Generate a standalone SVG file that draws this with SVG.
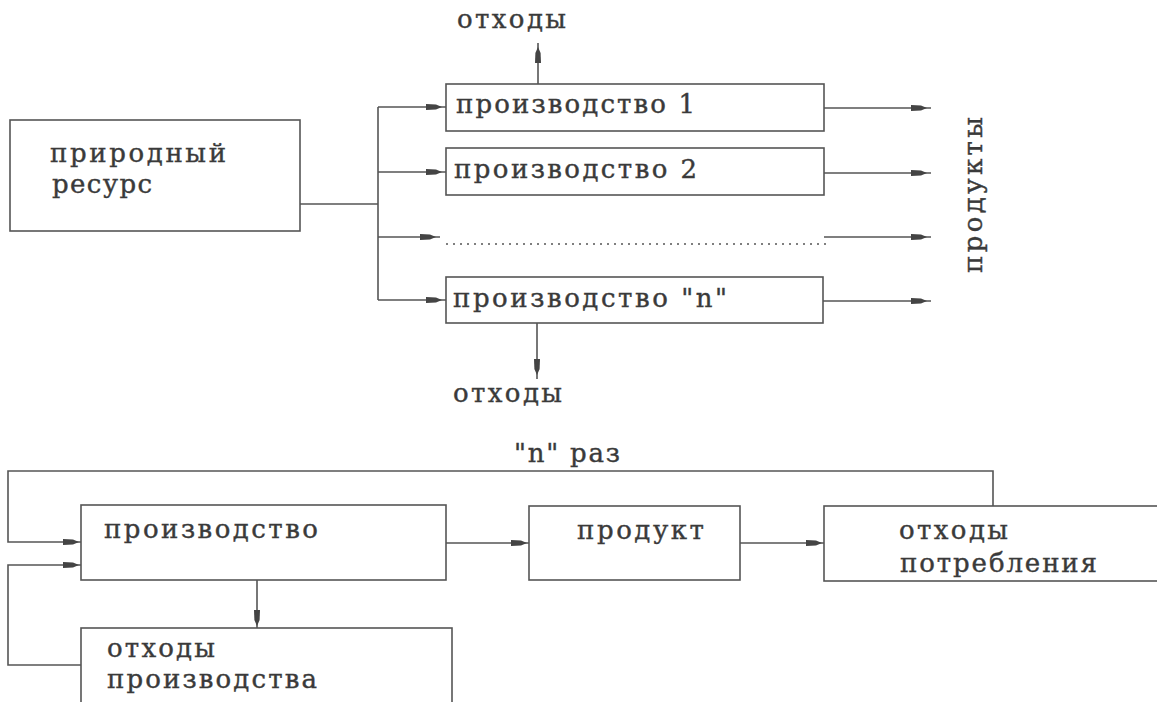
<svg xmlns="http://www.w3.org/2000/svg" width="1157" height="702" viewBox="0 0 1157 702">
<defs>
<style>
.box{fill:#fff;stroke:#555;stroke-width:1.6}
.ln{fill:none;stroke:#555;stroke-width:1.6}
.ar{fill:none;stroke:#555;stroke-width:1.6;marker-end:url(#ah)}
.t{font-family:"DejaVu Serif","Liberation Serif",serif;font-size:26px;fill:#3a3a3a;stroke:#3a3a3a;stroke-width:0.4}
.dots{fill:none;stroke:#555;stroke-width:1.5;stroke-dasharray:2 5}
</style>
<marker id="ah" markerUnits="userSpaceOnUse" markerWidth="24" markerHeight="10" refX="20" refY="0" viewBox="0 -5 24 10" orient="auto">
<path d="M0,-3 L10,-2.6 L16,0 L10,2.6 L0,3 Z" fill="#444"/>
</marker>
</defs>
<rect width="1157" height="702" fill="#fff"/>

<g id="connectors">
<line class="ln" x1="300" y1="204" x2="378" y2="204"/>
<line class="ln" x1="378" y1="107" x2="378" y2="300"/>
<line class="ar" x1="378" y1="107" x2="446" y2="107"/>
<line class="ar" x1="378" y1="172" x2="446" y2="172"/>
<line class="ar" x1="378" y1="237" x2="440" y2="237"/>
<line class="ar" x1="378" y1="300" x2="446" y2="300"/>
<line class="ar" x1="824" y1="108" x2="931" y2="108"/>
<line class="ar" x1="824" y1="173" x2="931" y2="173"/>
<line class="ar" x1="824" y1="237" x2="931" y2="237"/>
<line class="ar" x1="823" y1="301" x2="931" y2="301"/>
<line class="ar" x1="538" y1="84" x2="538" y2="43"/>
<line class="ar" x1="537" y1="323" x2="537" y2="379"/>
<line class="dots" x1="446" y1="244" x2="828" y2="244"/>
<path class="ar" d="M993,506 V471 H8 V542 H83"/>
<path class="ar" d="M81,665 H8 V565 H83"/>
<line class="ar" x1="446" y1="543" x2="531" y2="543"/>
<line class="ar" x1="740" y1="543" x2="826" y2="543"/>
<line class="ar" x1="257" y1="580" x2="257" y2="630"/>
</g>

<g id="resource">
<rect class="box" x="10" y="120" width="290" height="111"/>
<text class="t" x="50" y="162" textLength="176" lengthAdjust="spacing">природный</text>
<text class="t" x="52" y="193" textLength="100" lengthAdjust="spacing">ресурс</text>
</g>

<g id="prod1">
<rect class="box" x="446" y="84" width="378" height="47"/>
<text class="t" x="456" y="113" textLength="239" lengthAdjust="spacing">производство 1</text>
</g>

<g id="prod2">
<rect class="box" x="446" y="148" width="378" height="47"/>
<text class="t" x="454" y="178" textLength="243" lengthAdjust="spacing">производство 2</text>
</g>

<g id="prodn">
<rect class="box" x="446" y="277" width="377" height="46"/>
<text class="t" x="453" y="307" textLength="274" lengthAdjust="spacing">производство "n"</text>
</g>

<g id="waste-top">
<text class="t" x="457" y="28" textLength="109" lengthAdjust="spacing">отходы</text>
</g>

<g id="waste-bottom">
<text class="t" x="453" y="402" textLength="109" lengthAdjust="spacing">отходы</text>
</g>

<g id="products">
<text class="t" transform="translate(982,273) rotate(-90)" x="0" y="0" textLength="156" lengthAdjust="spacing">продукты</text>
</g>

<g id="n-times">
<text class="t" x="514" y="462" textLength="106" lengthAdjust="spacing">"n" раз</text>
</g>

<g id="production">
<rect class="box" x="81" y="505" width="365" height="75"/>
<text class="t" x="104" y="538" textLength="214" lengthAdjust="spacing">производство</text>
</g>

<g id="product">
<rect class="box" x="529" y="506" width="211" height="74"/>
<text class="t" x="577" y="539" textLength="127" lengthAdjust="spacing">продукт</text>
</g>

<g id="consumption-waste">
<rect class="box" x="824" y="506" width="360" height="75"/>
<text class="t" x="899" y="539" textLength="109" lengthAdjust="spacing">отходы</text>
<text class="t" x="900" y="572" textLength="197" lengthAdjust="spacing">потребления</text>
</g>

<g id="production-waste">
<rect class="box" x="81" y="628" width="371" height="90"/>
<text class="t" x="107" y="657" textLength="108" lengthAdjust="spacing">отходы</text>
<text class="t" x="107" y="688" textLength="210" lengthAdjust="spacing">производства</text>
</g>
</svg>
